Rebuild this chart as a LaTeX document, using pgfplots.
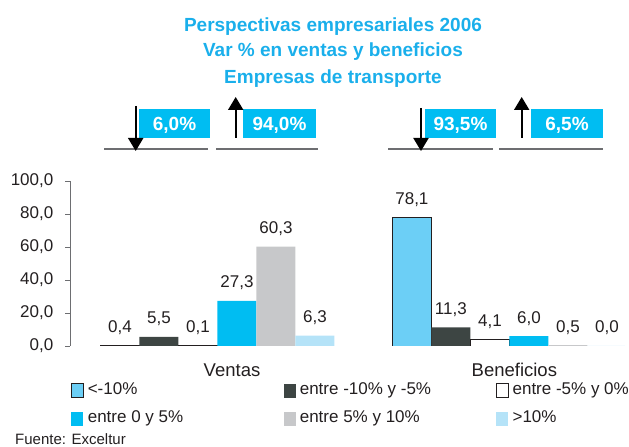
\documentclass[border=0pt]{standalone}
\usepackage{fontspec}
\setmainfont{Liberation Sans}
\usepackage{pgfplots}
\pgfplotsset{compat=1.18}
\usetikzlibrary{arrows.meta}
\definecolor{cA}{HTML}{6CCFF6}
\definecolor{cB}{HTML}{3D4543}
\definecolor{cD}{HTML}{00BDF2}
\definecolor{cE}{HTML}{C7C8CA}
\definecolor{cF}{HTML}{B5E3F8}
\definecolor{txt}{HTML}{231F20}
\definecolor{axgray}{HTML}{6D6E71}
\definecolor{ttl}{HTML}{1AAFEB}
\newcommand\fs[1]{\fontsize{#1bp}{#1bp}\selectfont}
\newcommand\lw[1]{\makebox[192bp][l]{#1}}

\begin{document}
\begin{tikzpicture}
\useasboundingbox (0bp,0bp) rectangle (629bp,447bp);
\begin{axis}[
    at={(70bp,101bp)}, anchor=south west,
    scale only axis, width=555bp, height=165bp,
    xmin=-0.505, xmax=1.396, ymin=0, ymax=100,
    ybar=0pt, bar width=39bp,
    axis lines*=left,
    x axis line style={draw=none},
    y axis line style={draw=axgray, line width=0.8bp},
    xtick={0.05,1.017}, xticklabels={Ventas,Beneficios},
    xtick style={draw=none},
    ytick={0,20,40,60,80,100},
    ytick style={draw=axgray, line width=0.8bp},
    tick align=outside, major tick length=4.5bp,
    /pgf/number format/fixed, /pgf/number format/fixed zerofill,
    /pgf/number format/precision=1, /pgf/number format/use comma,
    /pgf/number format/assume math mode=true,
    yticklabel style={font=\fs{17}, text=txt, inner sep=0pt, xshift=-12bp},
    xticklabel style={font=\fs{18.5}, text=txt, inner sep=0pt, anchor=base, yshift=-26bp},
    nodes near coords,
    every node near coord/.append style={font=\fs{17}, text=txt, anchor=base, yshift=13bp},
    legend columns=3,
    legend cell align=left,
    legend style={at={(0.0018,-0.2121)}, anchor=north west, draw=none, fill=none,
        inner sep=0pt, outer sep=0pt, column sep=0pt, row sep=8.5bp,
        font=\fs{17}, text=txt,
        nodes={inner xsep=4bp, inner ysep=2bp, text height=12bp, text depth=3.5bp}},
    legend image code/.code={\path[#1] (0bp,-7bp) rectangle (12bp,7bp);},
]
\addplot[fill=cA, draw=txt, line width=0.8bp] coordinates {(0,0.4) (1,78.1)};
\addplot[fill=cB, draw=none] coordinates {(0,5.5) (1,11.3)};
\addplot[fill=white, draw=txt, line width=0.8bp] coordinates {(0,0.1) (1,4.1)};
\addplot[fill=cD, draw=none] coordinates {(0,27.3) (1,6.0)};
\addplot[fill=cE, draw=none] coordinates {(0,60.3) (1,0.5)};
\addplot[fill=cF, draw=none] coordinates {(0,6.3) (1,0.0)};
\addlegendentry{\lw{<-10\%}}
\addlegendentry{\lw{entre -10\% y -5\%}}
\addlegendentry{entre -5\% y 0\%}
\addlegendentry{\lw{entre 0 y 5\%}}
\addlegendentry{\lw{entre 5\% y 10\%}}
\addlegendentry{>10\%}
\end{axis}
\begin{scope}[x=1bp, y=1bp]
% title
\node[anchor=base, inner sep=0, font=\bfseries\fs{19}, text=ttl] at (333,415) {Perspectivas empresariales 2006};
\node[anchor=base, inner sep=0, font=\bfseries\fs{19}, text=ttl] at (333,390) {Var \% en ventas y beneficios};
\node[anchor=base, inner sep=0, font=\bfseries\fs{19}, text=ttl] at (333,364) {Empresas de transporte};
% baselines
\draw[axgray, line width=1.2bp] (104,298) -- (208,298);
\draw[axgray, line width=1.2bp] (216,298) -- (318,298);
\draw[axgray, line width=1.2bp] (388,298) -- (493,298);
\draw[axgray, line width=1.2bp] (499,298) -- (603,298);
% boxes
\fill[cD] (139,309) rectangle (210,338);
\fill[cD] (243,309) rectangle (316,338);
\fill[cD] (425,309) rectangle (496,338);
\fill[cD] (531,309) rectangle (603,338);
\node[anchor=base, inner sep=0, font=\bfseries\fs{19}, text=white] at (174.5,317) {6,0\%};
\node[anchor=base, inner sep=0, font=\bfseries\fs{19}, text=white] at (279.5,317) {94,0\%};
\node[anchor=base, inner sep=0, font=\bfseries\fs{19}, text=white] at (460.5,317) {93,5\%};
\node[anchor=base, inner sep=0, font=\bfseries\fs{19}, text=white] at (567,317) {6,5\%};
% arrows
\draw[black, line width=2bp, -{Triangle[width=15bp,length=13bp]}] (135.7,341) -- (135.7,296);
\draw[black, line width=2bp, -{Triangle[width=15bp,length=13bp]}] (235.7,309) -- (235.7,350);
\draw[black, line width=2bp, -{Triangle[width=15bp,length=13bp]}] (421,339) -- (421,296);
\draw[black, line width=2bp, -{Triangle[width=15bp,length=13bp]}] (521.7,309) -- (521.7,350);
% source
\node[anchor=base west, inner sep=0, font=\fs{15}, text=txt] at (15,3) {Fuente: Exceltur};
\end{scope}
\end{tikzpicture}
\end{document}
